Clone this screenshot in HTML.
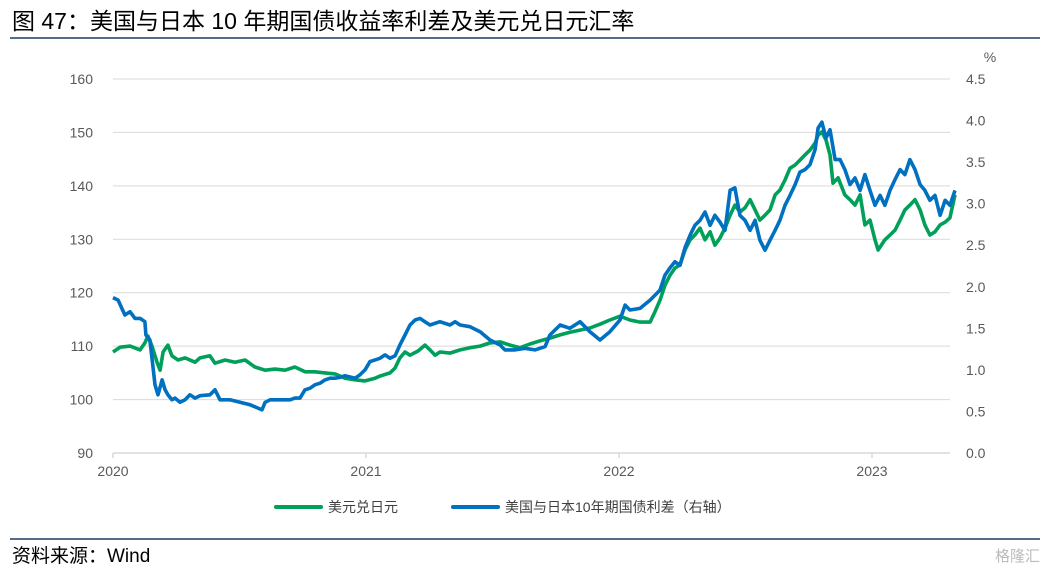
<!DOCTYPE html>
<html><head><meta charset="utf-8"><style>
body{margin:0;background:#fff;width:1050px;height:572px;overflow:hidden;font-family:"Liberation Sans","Noto Sans CJK SC",sans-serif}
</style></head><body>
<svg id="chart" width="1050" height="572" xmlns="http://www.w3.org/2000/svg" font-family="Liberation Sans, Noto Sans CJK SC, sans-serif">
<text x="12" y="29" font-size="23" fill="#000">图 47：美国与日本 10 年期国债收益率利差及美元兑日元汇率</text>
<line x1="10" y1="38" x2="1040" y2="38" stroke="#1f3864" stroke-width="1.5"/>
<g id="grid"></g>
<g id="axes"></g>
<g id="series"></g>
<text x="990" y="62" font-size="14" fill="#595959" text-anchor="middle">%</text>
<g>
<g><line x1="276" y1="507" x2="321" y2="507" stroke="#00a05a" stroke-width="4" stroke-linecap="round"/><text x="328" y="512" font-size="14" fill="#404040">美元兑日元</text></g>
<g><line x1="453" y1="507" x2="498" y2="507" stroke="#0070c0" stroke-width="4" stroke-linecap="round"/><text x="505" y="512" font-size="14" fill="#404040">美国与日本10年期国债利差（右轴）</text></g>
</g>
<line x1="10" y1="539" x2="1040" y2="539" stroke="#1f3864" stroke-width="1.5"/>
<text x="12" y="562" font-size="19" fill="#000">资料来源：Wind</text>
<text x="1040" y="561" font-size="15" fill="#bbb" text-anchor="end">格隆汇</text>
</svg>
<script>
const leftTicks=[90,100,110,120,130,140,150,160];
const rightTicks=["0.0","0.5","1.0","1.5","2.0","2.5","3.0","3.5","4.0","4.5"];
const yearLabels=["2020","2021","2022","2023"];
const greenT=[0,.028,.067,.107,.126,.138,.154,.174,.186,.198,.217,.233,.257,.285,.324,.344,.383,.403,.443,.482,.522,.561,.601,.640,.680,.719,.759,.798,.838,.877,.917,.957,.996,1.036,1.055,1.095,1.115,1.134,1.154,1.174,1.206,1.233,1.253,1.273,1.292,1.332,1.372,1.411,1.451,1.490,1.530,1.569,1.609,1.648,1.688,1.727,1.767,1.806,1.846,1.885,1.925,1.964,2.004,2.043,2.083,2.123,2.142,2.162,2.182,2.202,2.221,2.241,2.261,2.281,2.300,2.320,2.340,2.360,2.379,2.399,2.419,2.439,2.458,2.478,2.498,2.518,2.538,2.557,2.577,2.597,2.617,2.636,2.656,2.676,2.696,2.715,2.735,2.755,2.775,2.787,2.802,2.818,2.834,2.846,2.866,2.893,2.913,2.933,2.953,2.972,2.992,3.012,3.024,3.051,3.071,3.091,3.111,3.130,3.150,3.170,3.190,3.209,3.229,3.249,3.269,3.289,3.308,3.328];
const usdjpy=[108.9,109.8,110.0,109.3,110.6,111.9,110.0,107.0,105.5,108.9,110.2,108.2,107.4,107.8,107.0,107.8,108.2,106.8,107.4,107.0,107.4,106.1,105.5,105.7,105.5,106.1,105.2,105.2,105.0,104.8,104.0,103.7,103.5,104.0,104.4,105.0,105.9,107.8,108.9,108.3,109.1,110.2,109.3,108.3,108.9,108.7,109.3,109.7,110.0,110.6,110.8,110.2,109.7,110.4,111.0,111.5,112.1,112.6,113.0,113.4,114.1,114.9,115.6,114.9,114.5,114.5,116.4,118.6,121.4,123.3,124.6,125.2,128.0,129.9,130.8,132.1,129.9,131.4,128.9,130.2,132.1,134.5,136.4,135.1,135.9,137.4,135.5,133.6,134.5,135.5,138.3,139.2,141.1,143.3,143.9,144.8,145.8,146.7,148.0,149.5,150.1,148.6,145.8,140.5,141.5,138.3,137.4,136.4,138.3,132.7,133.6,129.9,128.0,129.9,130.8,131.7,133.6,135.5,136.4,137.4,135.5,132.7,130.8,131.4,132.7,133.2,134.0,138.3];
const blueT=[0,.020,.047,.067,.087,.107,.126,.130,.146,.166,.178,.194,.206,.217,.233,.245,.265,.285,.304,.324,.344,.383,.403,.423,.462,.502,.542,.573,.589,.601,.621,.660,.700,.719,.739,.759,.779,.798,.818,.838,.858,.877,.897,.917,.957,.976,.996,1.016,1.036,1.055,1.075,1.095,1.115,1.134,1.154,1.174,1.194,1.213,1.233,1.253,1.292,1.332,1.352,1.372,1.411,1.451,1.490,1.530,1.549,1.589,1.628,1.668,1.708,1.727,1.747,1.767,1.806,1.846,1.885,1.925,1.964,2.004,2.024,2.043,2.083,2.123,2.162,2.182,2.202,2.221,2.241,2.261,2.281,2.300,2.320,2.340,2.360,2.379,2.399,2.419,2.439,2.458,2.478,2.498,2.518,2.538,2.557,2.577,2.597,2.617,2.636,2.656,2.676,2.696,2.715,2.735,2.755,2.775,2.787,2.802,2.818,2.834,2.854,2.874,2.893,2.913,2.933,2.953,2.972,2.992,3.012,3.032,3.051,3.071,3.091,3.111,3.130,3.150,3.170,3.190,3.209,3.229,3.249,3.269,3.289,3.308,3.328];
const spread=[1.87,1.84,1.66,1.70,1.62,1.62,1.58,1.42,1.36,0.82,0.70,0.88,0.76,0.70,0.64,0.66,0.61,0.64,0.70,0.66,0.69,0.70,0.76,0.64,0.64,0.61,0.58,0.54,0.52,0.61,0.64,0.64,0.64,0.66,0.66,0.76,0.78,0.82,0.84,0.88,0.90,0.90,0.91,0.93,0.90,0.94,1.00,1.10,1.12,1.14,1.18,1.14,1.17,1.30,1.42,1.54,1.60,1.62,1.58,1.54,1.58,1.54,1.58,1.54,1.52,1.46,1.36,1.30,1.24,1.24,1.26,1.24,1.28,1.42,1.48,1.54,1.50,1.58,1.46,1.36,1.46,1.60,1.78,1.72,1.74,1.84,1.96,2.14,2.23,2.30,2.26,2.47,2.62,2.74,2.80,2.90,2.74,2.86,2.78,2.68,3.16,3.19,2.86,2.80,2.68,2.80,2.56,2.44,2.56,2.68,2.80,2.98,3.10,3.23,3.38,3.41,3.47,3.65,3.91,3.98,3.79,3.89,3.53,3.53,3.41,3.23,3.31,3.16,3.35,3.16,2.98,3.10,2.98,3.16,3.29,3.41,3.35,3.53,3.41,3.23,3.16,3.04,3.10,2.86,3.04,2.98,3.16];

const X0=113,YR=253,YT=79,YB=453;
const xs=t=>X0+t*YR;
const yL=v=>YB-(v-90)/70*(YB-YT);
const yR=v=>YB-v/4.5*(YB-YT);
const NS="http://www.w3.org/2000/svg";
function mk(tag,attrs,parent){const e=document.createElementNS(NS,tag);for(const k in attrs)e.setAttribute(k,attrs[k]);parent.appendChild(e);return e;}
const grid=document.getElementById('grid'),axes=document.getElementById('axes'),ser=document.getElementById('series');
leftTicks.forEach(v=>{
  const y=yL(v);
  if(v>90){const g=mk('line',{x1:X0,x2:950,y1:y,y2:y,stroke:'#d9d9d9','stroke-width':1},grid);
  
  }
  const t=mk('text',{x:93,y:y+5,'font-size':14,fill:'#595959','text-anchor':'end'},axes);t.textContent=v;
  
  
});
rightTicks.forEach(s=>{
  const t=mk('text',{x:966,y:yR(parseFloat(s))+5,'font-size':14,fill:'#595959'},axes);t.textContent=s;
  
  
});
const ax=mk('line',{x1:X0,x2:950,y1:YB,y2:YB,stroke:'#d9d9d9','stroke-width':1.5},axes);


yearLabels.forEach((s,i)=>{
  const x=xs(i);
  mk('line',{x1:x,x2:x,y1:YB,y2:YB+5,stroke:'#d9d9d9','stroke-width':1.5},axes);
  const t=mk('text',{x:x,y:476,'font-size':14,fill:'#595959','text-anchor':'middle'},axes);t.textContent=s;
  
  
});
function line(T,V,fy,color,name){
  const d=T.map((t,i)=>(i?'L':'M')+xs(t).toFixed(1)+','+fy(V[i]).toFixed(1)).join('');
  const p=mk('path',{d:d,fill:'none',stroke:color,'stroke-width':3.6,'stroke-linejoin':'round'},ser);
  
  
}
line(greenT,usdjpy,yL,'#00a05a','usdjpy-line');
line(blueT,spread,yR,'#0070c0','spread-line');
</script>
</body></html>
